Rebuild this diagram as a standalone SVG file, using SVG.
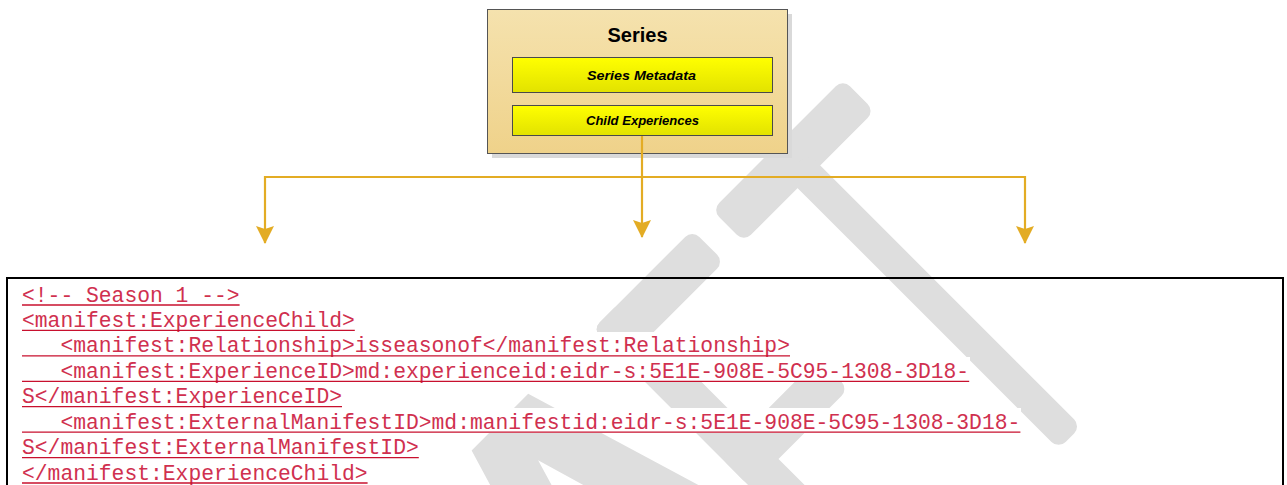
<svg xmlns="http://www.w3.org/2000/svg" width="1287" height="485" viewBox="0 0 1287 485">
  <style>
    .wm { fill: #dedede; }
    .title { font-family: "Liberation Sans", Arial, sans-serif; font-weight: bold; font-size: 20px; fill: #000; text-anchor: middle; }
    .sub { font-family: "Liberation Sans", Arial, sans-serif; font-weight: bold; font-style: italic; font-size: 13.5px; fill: #000; text-anchor: middle; }
    .inner { fill: url(#gYel); stroke: #4a4a4a; stroke-width: 1; }
    .conn { fill: none; stroke: #E3AC24; stroke-width: 2.2; }
    .code { font-family: "Liberation Mono", "Courier New", monospace; font-size: 21.33px; fill: #D0304F; white-space: pre; }
    .ul { stroke: #C8102E; stroke-width: 1.3; }
    .bg { fill: #fff; }
  </style>
  <defs>
    <linearGradient id="gTan" x1="0" y1="0" x2="0" y2="1">
      <stop offset="0" stop-color="#F5E2AE"/>
      <stop offset="1" stop-color="#EFD28A"/>
    </linearGradient>
    <linearGradient id="gYel" x1="0" y1="0" x2="0" y2="1">
      <stop offset="0" stop-color="#FFFF00"/>
      <stop offset="1" stop-color="#E2E200"/>
    </linearGradient>
    <marker id="arr" viewBox="0 0 18 18" refX="17" refY="9" markerWidth="18" markerHeight="18" markerUnits="userSpaceOnUse" orient="auto">
      <path d="M0,0 L18,9 L0,18 L3,9 Z" fill="#E3AC24"/>
    </marker>
  </defs>
  <rect width="1287" height="485" fill="#fff"/>

  <g id="watermark" transform="matrix(0.70711 -0.70711 0.70711 0.70711 0 0)">
    <rect class="wm" x="355" y="652" width="185" height="45" rx="10"/>
    <rect class="wm" x="431" y="680" width="32" height="386" rx="10"/>
    <rect class="wm" x="186" y="652" width="40" height="414" rx="10"/>
    <rect class="wm" x="186" y="652" width="141" height="45" rx="10"/>
    <rect class="wm" x="186" y="832" width="139" height="43" rx="10"/>
    <path class="wm" fill-rule="evenodd" d="M15,652 H95 L170,900 H-60 Z M55,706 L112,900 H-2 Z"/>
  </g>

  <g id="series">
    <rect x="492" y="14" width="300" height="144" fill="#d9d9d9"/>
    <rect x="487.5" y="9.5" width="300" height="144" fill="url(#gTan)" stroke="#555" stroke-width="1"/>
    <text class="title" x="637.5" y="42">Series</text>
  </g>
  <g id="series-metadata">
    <rect class="inner" x="512.5" y="57.5" width="260" height="35"/>
    <text class="sub" x="641.5" y="80" textLength="109" lengthAdjust="spacingAndGlyphs">Series Metadata</text>
  </g>
  <g id="child-experiences">
    <rect class="inner" x="512.5" y="105.5" width="260" height="30"/>
    <text class="sub" x="642.5" y="125" textLength="113" lengthAdjust="spacingAndGlyphs">Child Experiences</text>
  </g>

  <g id="connectors">
    <path class="conn" d="M642,136 V237" marker-end="url(#arr)"/>
    <path class="conn" d="M642,177 H265 V243" marker-end="url(#arr)"/>
    <path class="conn" d="M642,177 H1025 V243" marker-end="url(#arr)"/>
  </g>

  <g id="code-box">
    <rect x="7" y="278" width="1276" height="220" fill="none" stroke="#000" stroke-width="2"/>
    <rect class="bg" x="22" y="281" width="218" height="25"/>
    <rect class="bg" x="22" y="306" width="333" height="25"/>
    <rect class="bg" x="22" y="332" width="768" height="25"/>
    <rect class="bg" x="22" y="357" width="948" height="25"/>
    <rect class="bg" x="22" y="382" width="320" height="25"/>
    <rect class="bg" x="22" y="408" width="999" height="25"/>
    <rect class="bg" x="22" y="433" width="397" height="25"/>
    <rect class="bg" x="22" y="459" width="346" height="25"/>
    <text class="code" xml:space="preserve" x="22" y="301.5">&lt;!-- Season 1 --&gt;</text>
    <text class="code" xml:space="preserve" x="22" y="326.9">&lt;manifest:ExperienceChild&gt;</text>
    <text class="code" xml:space="preserve" x="22" y="352.4">   &lt;manifest:Relationship&gt;isseasonof&lt;/manifest:Relationship&gt;</text>
    <text class="code" xml:space="preserve" x="22" y="377.8">   &lt;manifest:ExperienceID&gt;md:experienceid:eidr-s:5E1E-908E-5C95-1308-3D18-</text>
    <text class="code" xml:space="preserve" x="22" y="403.2">S&lt;/manifest:ExperienceID&gt;</text>
    <text class="code" xml:space="preserve" x="22" y="428.6">   &lt;manifest:ExternalManifestID&gt;md:manifestid:eidr-s:5E1E-908E-5C95-1308-3D18-</text>
    <text class="code" xml:space="preserve" x="22" y="454.1">S&lt;/manifest:ExternalManifestID&gt;</text>
    <text class="code" xml:space="preserve" x="22" y="479.5">&lt;/manifest:ExperienceChild&gt;</text>
    <line class="ul" x1="22" y1="305" x2="239.6" y2="305"/>
    <line class="ul" x1="22" y1="330.4" x2="354.8" y2="330.4"/>
    <line class="ul" x1="22" y1="355.9" x2="790" y2="355.9"/>
    <line class="ul" x1="22" y1="381.3" x2="969.2" y2="381.3"/>
    <line class="ul" x1="22" y1="406.7" x2="342" y2="406.7"/>
    <line class="ul" x1="22" y1="432.1" x2="1020.4" y2="432.1"/>
    <line class="ul" x1="22" y1="457.6" x2="418.8" y2="457.6"/>
    <line class="ul" x1="22" y1="483" x2="367.6" y2="483"/>
  </g>
</svg>
